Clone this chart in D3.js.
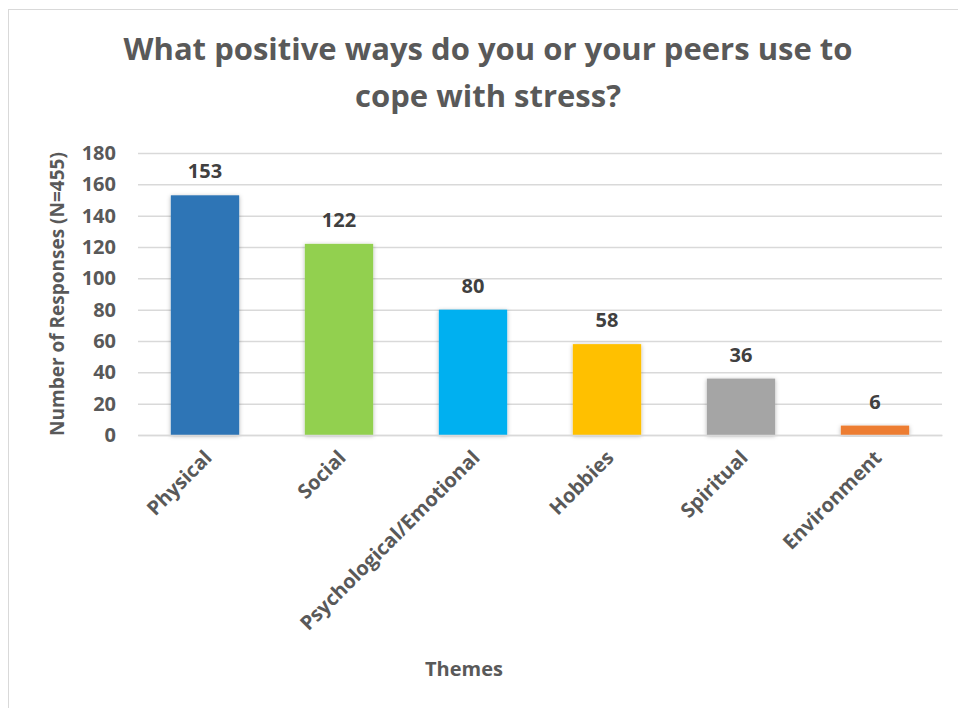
<!DOCTYPE html>
<html>
<head>
<meta charset="utf-8">
<script src="https://cdn.jsdelivr.net/npm/d3@7"></script>
<style>
  html, body { margin: 0; padding: 0; background: #fff; }
  svg { display: block; font-family: "Open Sans", "Noto Sans", sans-serif; }
</style>
</head>
<body>
<svg id="chart" width="958" height="708"></svg>
<script>
// Survey themes and response counts
const categories = ["Physical", "Social", "Psychological/Emotional", "Hobbies", "Spiritual", "Environment"];
const responses = [153, 122, 80, 58, 36, 6];
const barColors = ["#2E75B6", "#92D050", "#00B0F0", "#FFC000", "#A5A5A5", "#ED7D31"];
const yTicks = [0, 20, 40, 60, 80, 100, 120, 140, 160, 180];
const titleLines = ["What positive ways do you or your peers use to", "cope with stress?"];

const svg = d3.select("#chart");
const W = 958, H = 708;
const margin = { left: 138, right: 16, top: 153, bottom: 273 };
const labelFont = 20;

// chart area frame
svg.append("rect")
  .attr("x", 8.5).attr("y", 9.5)
  .attr("width", W + 10).attr("height", H + 10)
  .attr("fill", "#fff").attr("stroke", "#d9d9d9").attr("stroke-width", 1);

const x = d3.scaleBand()
  .domain(categories)
  .range([margin.left, W - margin.right])
  .paddingInner(0.49).paddingOuter(0.245);

const y = d3.scaleLinear()
  .domain([0, 180])
  .range([H - margin.bottom, margin.top]);

// soft drop shadow for bars
const defs = svg.append("defs");
const f = defs.append("filter").attr("id", "shadow")
  .attr("x", "-20%").attr("y", "-20%").attr("width", "140%").attr("height", "140%");
f.append("feDropShadow").attr("dx", 0).attr("dy", 1).attr("stdDeviation", 2)
  .attr("flood-color", "#000").attr("flood-opacity", 0.3);

// title
svg.append("g").selectAll("text")
  .data(titleLines).join("text")
  .attr("x", 488).attr("y", (d, i) => 60 + i * 47)
  .attr("text-anchor", "middle")
  .attr("font-size", 31).attr("font-weight", 700)
  .attr("fill", "#595959")
  .text(d => d);

// gridlines and y tick labels
const yAxis = d3.axisLeft(y).tickValues(yTicks).tickSize(-(W - margin.right - margin.left)).tickPadding(22);
const gy = svg.append("g").attr("transform", `translate(${margin.left},0)`).call(yAxis);
gy.select(".domain").remove();
gy.selectAll(".tick line").attr("stroke", "#d9d9d9").attr("stroke-width", 1.5);
gy.selectAll(".tick text")
  .attr("font-size", labelFont).attr("font-weight", 700).attr("fill", "#595959")
  .attr("font-family", "'Open Sans', sans-serif");

// bars
svg.append("g").selectAll("rect")
  .data(responses).join("rect")
  .attr("x", (d, i) => x(categories[i]))
  .attr("y", d => y(d))
  .attr("width", x.bandwidth())
  .attr("height", d => y(0) - y(d))
  .attr("fill", (d, i) => barColors[i])
  .attr("filter", "url(#shadow)");

// value labels
svg.append("g").selectAll("text")
  .data(responses).join("text")
  .attr("x", (d, i) => x(categories[i]) + x.bandwidth() / 2)
  .attr("y", d => y(d) - 17)
  .attr("text-anchor", "middle")
  .attr("font-size", labelFont).attr("font-weight", 700).attr("fill", "#404040")
  .text(d => d);

// x axis: baseline and rotated category labels
const xAxis = d3.axisBottom(x).tickSize(0).tickPadding(0);
const gx = svg.append("g").attr("transform", `translate(0,${y(0)})`).call(xAxis);
gx.select(".domain").attr("stroke", "#d9d9d9").attr("stroke-width", 1.5);
gx.selectAll(".tick text")
  .attr("font-size", labelFont).attr("font-weight", 700).attr("fill", "#595959")
  .attr("font-family", "'Open Sans', sans-serif")
  .attr("text-anchor", "end")
  .attr("dy", null)
  .attr("transform", "translate(8,24) rotate(-45)");

// axis titles
svg.append("text")
  .attr("transform", `translate(64,${(y(0) + y(180)) / 2}) rotate(-90)`)
  .attr("text-anchor", "middle")
  .attr("font-size", 19).attr("font-weight", 700).attr("fill", "#595959")
  .text("Number of Responses (N=455)");

svg.append("text")
  .attr("x", 464).attr("y", 676)
  .attr("text-anchor", "middle")
  .attr("font-size", labelFont).attr("font-weight", 700).attr("fill", "#595959")
  .text("Themes");
</script>
</body>
</html>
